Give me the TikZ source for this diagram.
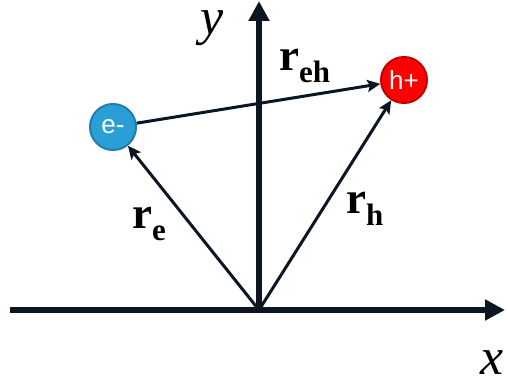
\documentclass[tikz,border=0pt]{standalone}
\usepackage{fontspec}
\setmainfont{Liberation Serif}
\newfontfamily\arialfont{Liberation Sans}
\usetikzlibrary{arrows.meta}
\definecolor{ink}{HTML}{0B1622}
\definecolor{eblue}{HTML}{2A9FD6}
\definecolor{eblueb}{HTML}{1F7DB4}
\definecolor{hred}{HTML}{FF0000}
\definecolor{hredb}{HTML}{C00000}
\tikzset{
  axis/.style={draw=ink,line width=6pt,-{Triangle[length=20pt,width=20pt]}},
  vec/.style={draw=ink,line width=3pt,-{Stealth[length=13pt,width=12pt,inset=2.5pt]}},
  particle/.style={circle,minimum size=46pt,inner sep=0pt,line width=2pt,text=white,font=\arialfont\fontsize{26}{26}\selectfont},
  vlabel/.style={inner sep=0pt,anchor=base west,font=\bfseries\fontsize{45}{45}\selectfont},
  axlabel/.style={inner sep=0pt,anchor=base,text depth=0pt,text height=24pt,font=\itshape\fontsize{52}{52}\selectfont}
}
\newcommand{\vsub}[1]{\raisebox{-12pt}{\fontsize{31}{31}\selectfont\bfseries #1}}
\begin{document}
\begin{tikzpicture}[x=1pt,y=-1pt]
\useasboundingbox (0,0) rectangle (508,385);
\coordinate (O) at (259,310);
\coordinate (xl) at (10,310);
\coordinate (xr) at (505,310);
\coordinate (yt) at (259,1);
\draw[axis] (xl) -- (xr);
\draw[axis] (O) -- (yt);
\node[particle,fill=eblue,draw=eblueb] (e) at (113,127) {e-};
\node[particle,fill=hred,draw=hredb] (h) at (404,80) {h+};
\draw[vec] (O) -- (e);
\draw[vec] (O) -- (h);
\draw[vec] (e) -- (h);
\node[vlabel] (leh) at (279,71) {r\vsub{eh}};
\node[vlabel] (le) at (132,228) {r\vsub{e}};
\node[vlabel] (lh) at (346,213) {r\vsub{h}};
\node[axlabel] (ly) at (212,35) {y};
\node[axlabel] (lx) at (492,374) {x};
\end{tikzpicture}
\end{document}
